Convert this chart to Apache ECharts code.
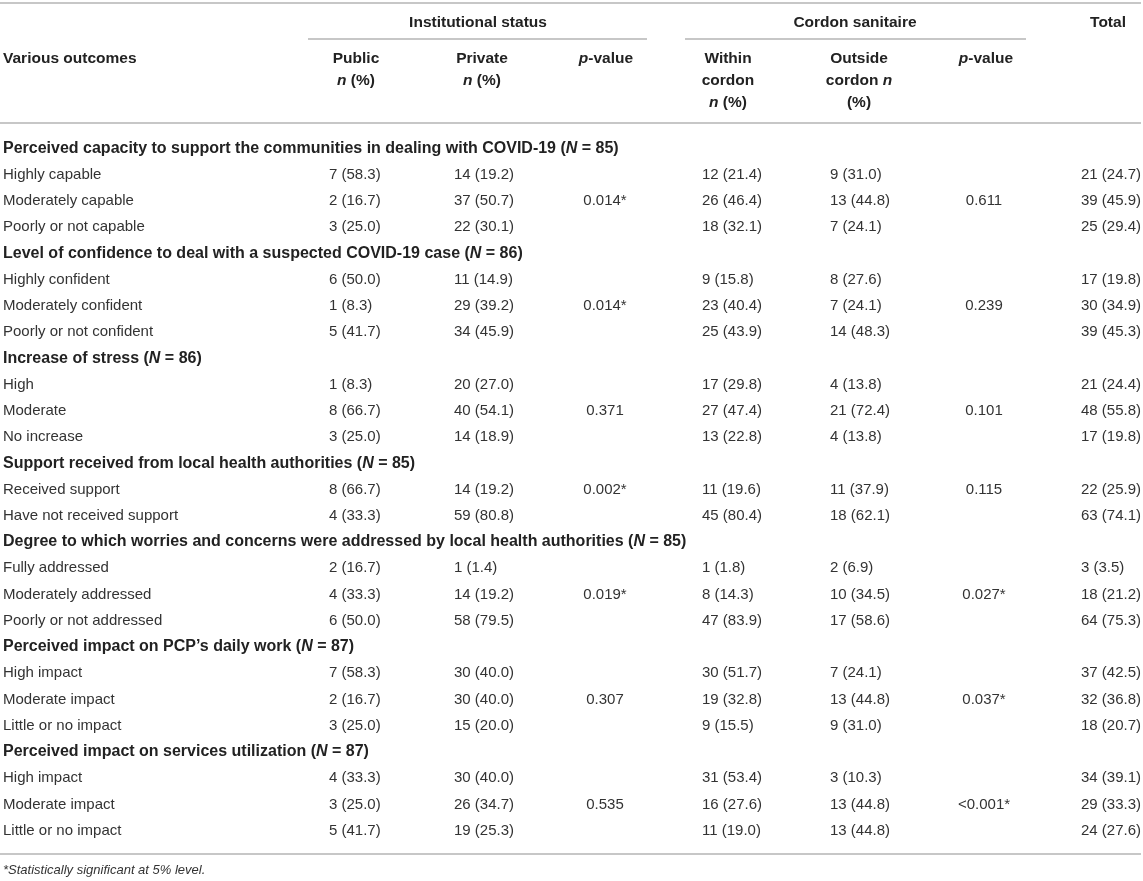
<!DOCTYPE html>
<html>
<head>
<meta charset="utf-8">
<script src="https://cdn.jsdelivr.net/npm/echarts@6/dist/echarts.min.js"></script>
<style>
  html, body { margin: 0; padding: 0; background: #fff; }
  #table { width: 1143px; height: 881px; }
</style>
</head>
<body>
<div id="table"></div>
<script>
// row labels, section headings included ({i|N} = italic)
var outcomes = [
  'Perceived capacity to support the communities in dealing with COVID-19 ({i|N} = 85)',
  'Highly capable', 'Moderately capable', 'Poorly or not capable',
  'Level of confidence to deal with a suspected COVID-19 case ({i|N} = 86)',
  'Highly confident', 'Moderately confident', 'Poorly or not confident',
  'Increase of stress ({i|N} = 86)',
  'High', 'Moderate', 'No increase',
  'Support received from local health authorities ({i|N} = 85)',
  'Received support', 'Have not received support',
  'Degree to which worries and concerns were addressed by local health authorities ({i|N} = 85)',
  'Fully addressed', 'Moderately addressed', 'Poorly or not addressed',
  'Perceived impact on PCP\u2019s daily work ({i|N} = 87)',
  'High impact', 'Moderate impact', 'Little or no impact',
  'Perceived impact on services utilization ({i|N} = 87)',
  'High impact', 'Moderate impact', 'Little or no impact'
];
var headingRows = [0, 4, 8, 12, 15, 19, 23];

var publicN = ['', '7 (58.3)', '2 (16.7)', '3 (25.0)', '', '6 (50.0)', '1 (8.3)', '5 (41.7)', '', '1 (8.3)', '8 (66.7)', '3 (25.0)', '', '8 (66.7)', '4 (33.3)', '', '2 (16.7)', '4 (33.3)', '6 (50.0)', '', '7 (58.3)', '2 (16.7)', '3 (25.0)', '', '4 (33.3)', '3 (25.0)', '5 (41.7)'];
var privateN = ['', '14 (19.2)', '37 (50.7)', '22 (30.1)', '', '11 (14.9)', '29 (39.2)', '34 (45.9)', '', '20 (27.0)', '40 (54.1)', '14 (18.9)', '', '14 (19.2)', '59 (80.8)', '', '1 (1.4)', '14 (19.2)', '58 (79.5)', '', '30 (40.0)', '30 (40.0)', '15 (20.0)', '', '30 (40.0)', '26 (34.7)', '19 (25.3)'];
var pInstitution = ['', '', '0.014*', '', '', '', '0.014*', '', '', '', '0.371', '', '', '0.002*', '', '', '', '0.019*', '', '', '', '0.307', '', '', '', '0.535', ''];
var withinN = ['', '12 (21.4)', '26 (46.4)', '18 (32.1)', '', '9 (15.8)', '23 (40.4)', '25 (43.9)', '', '17 (29.8)', '27 (47.4)', '13 (22.8)', '', '11 (19.6)', '45 (80.4)', '', '1 (1.8)', '8 (14.3)', '47 (83.9)', '', '30 (51.7)', '19 (32.8)', '9 (15.5)', '', '31 (53.4)', '16 (27.6)', '11 (19.0)'];
var outsideN = ['', '9 (31.0)', '13 (44.8)', '7 (24.1)', '', '8 (27.6)', '7 (24.1)', '14 (48.3)', '', '4 (13.8)', '21 (72.4)', '4 (13.8)', '', '11 (37.9)', '18 (62.1)', '', '2 (6.9)', '10 (34.5)', '17 (58.6)', '', '7 (24.1)', '13 (44.8)', '9 (31.0)', '', '3 (10.3)', '13 (44.8)', '13 (44.8)'];
var pCordon = ['', '', '0.611', '', '', '', '0.239', '', '', '', '0.101', '', '', '0.115', '', '', '', '0.027*', '', '', '', '0.037*', '', '', '', '<0.001*', ''];
var totalN = ['', '21 (24.7)', '39 (45.9)', '25 (29.4)', '', '17 (19.8)', '30 (34.9)', '39 (45.3)', '', '21 (24.4)', '48 (55.8)', '17 (19.8)', '', '22 (25.9)', '63 (74.1)', '', '3 (3.5)', '18 (21.2)', '64 (75.3)', '', '37 (42.5)', '32 (36.8)', '18 (20.7)', '', '34 (39.1)', '29 (33.3)', '24 (27.6)'];

// header texts
var groupHeaders = ['Institutional status', 'Cordon sanitaire', 'Total'];
var columnHeaders = [
  ['Various outcomes'],
  ['Public', '{i|n} (%)'],
  ['Private', '{i|n} (%)'],
  ['{i|p}-value'],
  ['Within', 'cordon', '{i|n} (%)'],
  ['Outside', 'cordon {i|n}', '(%)'],
  ['{i|p}-value'],
  []
];
var footnote = '*Statistically significant at 5% level.';

var FONT = '"Liberation Sans", Arial, Helvetica, sans-serif';
var columns = [outcomes, publicN, privateN, pInstitution, withinN, outsideN, pCordon, totalN];
// anchor of each column on the x axis, and how the text sits on it
var colX = [3, 329, 454, 605, 702, 830, 984, 1081];
var colAlign = ['left', 'left', 'left', 'center', 'left', 'left', 'center', 'left'];
var headX = [3, 356, 482, 606, 728, 859, 986, 1108];
var headAlign = ['left', 'center', 'center', 'center', 'center', 'center', 'center', 'center'];

function richFor(size) {
  return { i: { fontStyle: 'italic', fontWeight: 'bold', fontFamily: FONT, fontSize: size, fill: '#222' } };
}

var chart = echarts.init(document.getElementById('table'));

var series = columns.map(function (col, c) {
  return {
    type: 'custom',
    silent: true,
    data: col.map(function (t, r) { return [colX[c], r]; }),
    renderItem: function (params, api) {
      var r = params.dataIndex;
      var text = col[r];
      if (!text) return null;
      var p = api.coord([api.value(0), api.value(1)]);
      var bold = c === 0 && headingRows.indexOf(r) >= 0;
      return {
        type: 'text',
        x: p[0],
        y: p[1],
        style: {
          text: text,
          align: colAlign[c],
          verticalAlign: 'middle',
          fontFamily: FONT,
          fontSize: bold ? 16 : 15,
          fontWeight: bold ? 'bold' : 'normal',
          fill: bold ? '#222' : '#333',
          rich: richFor(16)
        }
      };
    }
  };
});

var graphics = [];
function rule(x1, y, x2) {
  graphics.push({ type: 'line', silent: true, shape: { x1: x1, y1: y, x2: x2, y2: y }, style: { stroke: '#b5b5b5', lineWidth: 1.5 } });
}
function headText(text, x, y, align) {
  graphics.push({
    type: 'text', silent: true, x: x, y: y,
    style: {
      text: text, align: align, verticalAlign: 'middle',
      fontFamily: FONT, fontSize: 15.5, fontWeight: 'bold', fill: '#222',
      rich: richFor(15.5)
    }
  });
}
rule(0, 3, 1141);
rule(308, 39, 647);
rule(685, 39, 1026);
rule(0, 123, 1141);
rule(0, 854, 1141);
headText(groupHeaders[0], 478, 23, 'center');
headText(groupHeaders[1], 855, 23, 'center');
headText(groupHeaders[2], 1108, 23, 'center');
columnHeaders.forEach(function (lines, c) {
  lines.forEach(function (t, k) {
    headText(t, headX[c], 59 + k * 22, headAlign[c]);
  });
});
graphics.push({
  type: 'text', silent: true, x: 3, y: 870,
  style: { text: footnote, align: 'left', verticalAlign: 'middle', fontFamily: FONT, fontSize: 13, fontStyle: 'italic', fill: '#333' }
});

var option = {
  animation: false,
  grid: { left: 0, right: 0, top: 135, height: 708.75 },
  xAxis: { type: 'value', min: 0, max: 1143, show: false },
  yAxis: {
    type: 'category',
    inverse: true,
    data: outcomes.map(function (t, i) { return String(i); }),
    show: false
  },
  graphic: graphics,
  series: series
};

option && chart.setOption(option);
</script>
</body>
</html>
